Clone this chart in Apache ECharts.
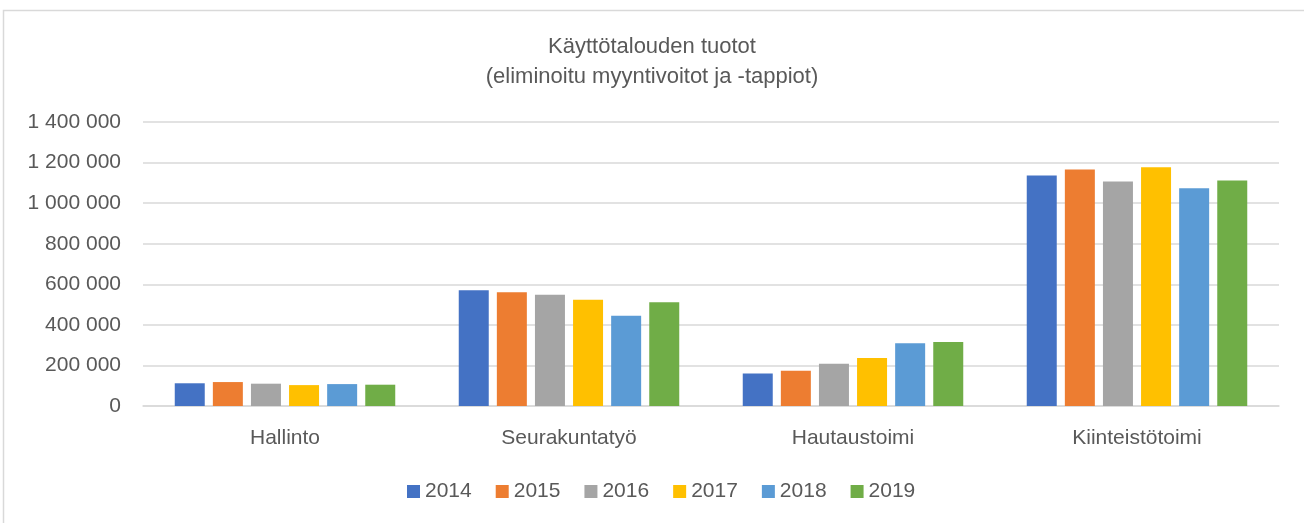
<!DOCTYPE html>
<html>
<head>
<meta charset="utf-8">
<script src="https://cdn.jsdelivr.net/npm/echarts@6/dist/echarts.min.js"></script>
<style>
html,body{margin:0;padding:0;background:#fff;}
#chart{width:1304px;height:523px;}
</style>
</head>
<body>
<div id="chart"></div>
<script>
const categories = ['Hallinto', 'Seurakuntatyö', 'Hautaustoimi', 'Kiinteistötoimi'];
const years = ['2014', '2015', '2016', '2017', '2018', '2019'];
const v2014 = [112000, 570000, 160000, 1136000];
const v2015 = [118000, 561000, 174000, 1166000];
const v2016 = [110000, 549000, 208000, 1107000];
const v2017 = [103000, 524000, 237000, 1177000];
const v2018 = [108000, 445000, 309000, 1074000];
const v2019 = [105000, 512000, 316000, 1112000];
const seriesValues = [v2014, v2015, v2016, v2017, v2018, v2019];
const colors = ['#4472C4', '#ED7D31', '#A5A5A5', '#FFC000', '#5B9BD5', '#70AD47'];
const titleLines = ['Käyttötalouden tuotot', '(eliminoitu myyntivoitot ja -tappiot)'];
const yMin = 0, yMax = 1400000, yInterval = 200000;

const FONT = '"Liberation Sans", Arial, sans-serif';
const TXT = '#595959';

const chart = echarts.init(document.getElementById('chart'));
chart.setOption({
  animation: false,
  color: colors,
  textStyle: { fontFamily: FONT },
  graphic: [{
    type: 'rect',
    shape: { x: 3.5, y: 10.5, width: 1320, height: 530 },
    style: { fill: 'none', stroke: '#D9D9D9', lineWidth: 1.5 },
    silent: true
  }],
  title: {
    text: titleLines.join('\n'),
    left: 'center',
    top: 27,
    textStyle: { color: TXT, fontSize: 22, fontWeight: 'normal', lineHeight: 30, fontFamily: FONT }
  },
  legend: {
    data: years,
    bottom: 16,
    left: 402,
    itemWidth: 13,
    itemHeight: 13,
    itemGap: 24,
    icon: 'rect',
    textStyle: { color: TXT, fontSize: 21, fontFamily: FONT }
  },
  grid: { left: 143, right: 25, top: 122, bottom: 117, containLabel: false },
  xAxis: {
    type: 'category',
    data: categories,
    axisLine: { lineStyle: { color: '#D9D9D9', width: 1.5 } },
    axisTick: { show: false },
    axisLabel: { color: TXT, fontSize: 21, margin: 22, fontFamily: FONT }
  },
  yAxis: {
    type: 'value',
    min: yMin, max: yMax, interval: yInterval,
    axisLine: { show: false },
    axisTick: { show: false },
    splitLine: { lineStyle: { color: '#D9D9D9', width: 1.5 } },
    axisLabel: {
      color: TXT, fontSize: 21, margin: 22, fontFamily: FONT,
      formatter: v => String(v).replace(/\B(?=(\d{3})+(?!\d))/g, ' ')
    }
  },
  series: years.map((y, i) => ({
    name: y,
    type: 'bar',
    data: seriesValues[i],
    barWidth: 30,
    barGap: '27%'
  }))
});
</script>
</body>
</html>
